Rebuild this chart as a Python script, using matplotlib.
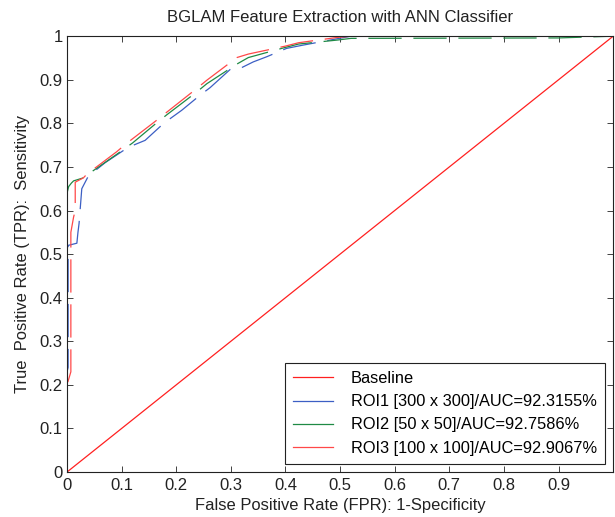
import matplotlib
matplotlib.use("Agg")
import matplotlib.pyplot as plt

plt.rcParams['font.family'] = ['Liberation Sans', 'DejaVu Sans']

# --- DATA ---
base_fpr = [0, 1]
base_tpr = [0, 1]

roi1_fpr = [0, 0, 0.002, 0.002, 0.018, 0.020, 0.022, 0.027, 0.039, 0.070, 0.112, 0.143,
            0.170, 0.189, 0.210, 0.244, 0.262, 0.299, 0.320, 0.341, 0.366, 0.402, 0.430,
            0.494, 0.520, 1.0]
roi1_tpr = [0, 0.23, 0.24, 0.52, 0.525, 0.55, 0.57, 0.65, 0.679, 0.710, 0.745, 0.761,
            0.792, 0.811, 0.830, 0.865, 0.882, 0.924, 0.928, 0.941, 0.953, 0.972, 0.979,
            0.994, 1.0, 1.0]

roi2_fpr = [0, 0, 0.003, 0.008, 0.012, 0.030, 0.036, 0.091, 0.120, 0.164, 0.183, 0.2375,
            0.256, 0.311, 0.332, 0.399, 0.424, 0.494, 0.520, 0.900, 1.0]
roi2_tpr = [0, 0.64, 0.655, 0.663, 0.668, 0.675, 0.681, 0.729, 0.755, 0.801, 0.820, 0.872,
            0.891, 0.936, 0.951, 0.974, 0.982, 0.991, 0.995, 0.996, 1.0]

roi3_fpr = [0, 0, 0.007, 0.007, 0.012, 0.015, 0.015, 0.030, 0.036, 0.091, 0.109, 0.164,
            0.183, 0.2375, 0.256, 0.311, 0.332, 0.399, 0.424, 0.494, 0.520, 1.0]
roi3_tpr = [0, 0.20, 0.23, 0.55, 0.585, 0.60, 0.665, 0.675, 0.683, 0.735, 0.754, 0.807,
            0.826, 0.880, 0.899, 0.951, 0.959, 0.977, 0.985, 0.997, 1.0, 1.0]

labels = ['Baseline',
          'ROI1 [300 x 300]/AUC=92.3155%',
          'ROI2 [50 x 50]/AUC=92.7586%',
          'ROI3 [100 x 100]/AUC=92.9067%']

x_ticks = [0, 0.1, 0.2, 0.3, 0.4, 0.5, 0.6, 0.7, 0.8, 0.9, 1.0]
x_ticklabels = ['0', '0.1', '0.2', '0.3', '0.4', '0.5', '0.6', '0.7', '0.8', '0.9', '']
y_ticks = [0, 0.1, 0.2, 0.3, 0.4, 0.5, 0.6, 0.7, 0.8, 0.9, 1.0]
y_ticklabels = ['0', '0.1', '0.2', '0.3', '0.4', '0.5', '0.6', '0.7', '0.8', '0.9', '1']

# --- PLOT ---
fig = plt.figure(figsize=(6.15, 5.17), dpi=100)
ax = fig.add_axes([0.109, 0.087, 0.888, 0.843])

dash = (26.6, 9.4)
ax.plot(base_fpr, base_tpr, color='#ff2020', lw=0.9, label=labels[0])
ax.plot(roi1_fpr, roi1_tpr, color='#3c5fc4', lw=0.9, dashes=dash, label=labels[1])
ax.plot(roi2_fpr, roi2_tpr, color='#1f8a45', lw=0.9, dashes=dash, label=labels[2])
ax.plot(roi3_fpr, roi3_tpr, color='#ff4848', lw=0.9, dashes=dash, label=labels[3])

ax.set_xlim(0, 1)
ax.set_ylim(0, 1)
ax.set_xticks(x_ticks)
ax.set_xticklabels(x_ticklabels)
ax.set_yticks(y_ticks)
ax.set_yticklabels(y_ticklabels)
ax.tick_params(direction='in', top=True, right=True, labelsize=12,
               length=4, width=0.6, colors='#222222', pad=4)
ax.tick_params(axis='y', pad=3)
for s in ax.spines.values():
    s.set_linewidth(0.8)
    s.set_color('#222222')

ax.set_title('BGLAM Feature Extraction with ANN Classifier', fontsize=12, color='#222222', pad=10)
ax.set_xlabel('False Positive Rate (FPR): 1-Specificity', fontsize=11.9, color='#222222', labelpad=4)
ax.set_ylabel('True  Positive Rate (TPR):  Sensitivity', fontsize=11.9, color='#222222', labelpad=7)

leg = ax.legend(loc='lower right', fontsize=11.8, fancybox=False, framealpha=1,
                edgecolor='#222222', borderaxespad=0.5, handlelength=2.4,
                handletextpad=1.1, borderpad=0.5, labelspacing=0.5)
for h in leg.get_lines():
    h.set_linestyle('-')
leg.get_frame().set_linewidth(0.8)

fig.savefig('out.png', dpi=100)
